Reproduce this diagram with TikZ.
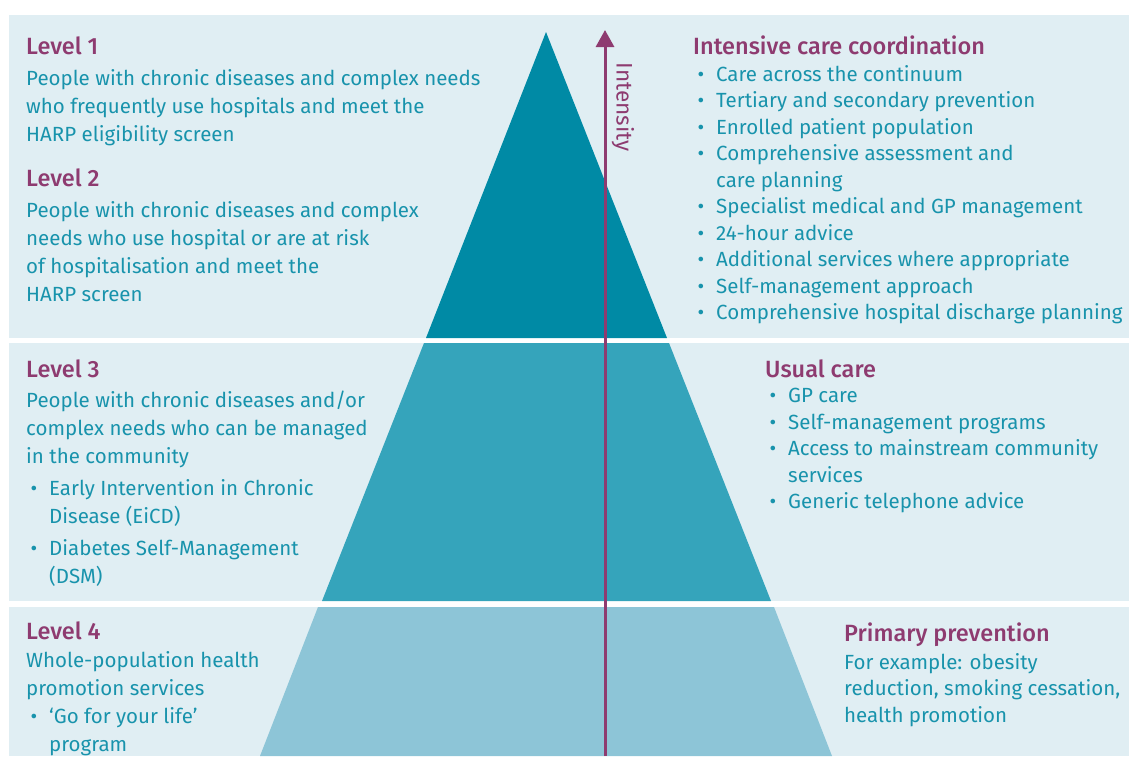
\documentclass[tikz,border=0pt]{standalone}
\usepackage{fontspec}
\setmainfont{Fira Sans}[BoldFont={Fira Sans Medium}]
\usetikzlibrary{arrows.meta}

\definecolor{bandbg}{HTML}{E0EEF3}
\definecolor{tiertop}{HTML}{008AA5}
\definecolor{tiermid}{HTML}{35A4BB}
\definecolor{tierlow}{HTML}{8DC5D7}
\definecolor{plum}{HTML}{8E3B70}
\definecolor{tealtext}{HTML}{1893AC}

\newcommand{\bul}{\llap{\textbullet\hspace{12pt}}}

\begin{document}
\begin{tikzpicture}[x=1pt, y=-1pt,
    heading/.style={anchor=base west, inner sep=0pt, text=plum, font=\fontsize{23.5}{28}\selectfont\bfseries},
    body/.style={anchor=north west, yshift=16pt, inner sep=0pt, text=tealtext, align=left,
      font=\fontsize{20.5}{28}\selectfont, execute at begin node=\strut},
    listbody/.style={body, yshift=-1.05pt, font=\fontsize{20.5}{26.5}\selectfont}
  ]
  \useasboundingbox (0,0) rectangle (1129,756);

  % bands
  \fill[bandbg] (9,15) rectangle (1129,338);
  \fill[bandbg] (9,343) rectangle (1129,601);
  \fill[bandbg] (9,607) rectangle (1129,756);

  % pyramid
  \fill[tiertop] (546,32) -- (667,338) -- (426,338) -- cycle;
  \fill[tiermid] (424,343) -- (669,343) -- (771,601) -- (322,601) -- cycle;
  \fill[tierlow] (318,607) -- (774,607) -- (832,756) -- (260,756) -- cycle;

  % intensity arrow
  \coordinate (arrowfoot) at (605,756);
  \coordinate (arrowtip) at (605,30);
  \draw[plum, line width=3pt, -{Triangle[width=18pt,length=17pt]}] (arrowfoot) -- (arrowtip);
  \node[rotate=-90, inner sep=0pt, text=plum, font=\fontsize{22.5}{26}\selectfont] (intensity) at (623,107) {Intensity};

  % left column
  \node[heading] (lvlone) at (26,54) {Level 1};
  \node[body] (lvlonetxt) at (26,85) {People with chronic diseases and complex needs\\who frequently use hospitals and meet the\\HARP eligibility screen};

  \node[heading] (lvltwo) at (26,186) {Level 2};
  \node[body] (lvltwotxt) at (26,217) {People with chronic diseases and complex\\needs who use hospital or are at risk\\of hospitalisation and meet the\\HARP screen};

  \node[heading] (lvlthree) at (26,377) {Level 3};
  \node[body] (lvlthreetxt) at (26,407) {People with chronic diseases and/or\\complex needs who can be managed\\in the community};
  \node[body] (lvlthreelist) at (49,495) {\bul Early Intervention in Chronic\\Disease (EiCD)\\[4pt]\bul Diabetes Self-Management\\(DSM)};

  \node[heading] (lvlfour) at (26,639) {Level 4};
  \node[body] (lvlfourtxt) at (26,667) {Whole-population health\\promotion services};
  \node[body] (lvlfourlist) at (49,723) {\bul `Go for your life'\\program};

  % right column
  \node[heading] (intensive) at (693,54) {Intensive care coordination};
  \node[listbody] (intensivelist) at (716,80) {\bul Care across the continuum\\\bul Tertiary and secondary prevention\\\bul Enrolled patient population\\\bul Comprehensive assessment and\\care planning\\\bul Specialist medical and GP management\\\bul 24-hour advice\\\bul Additional services where appropriate\\\bul Self-management approach\\\bul Comprehensive hospital discharge planning};

  \node[heading] (usual) at (765,377) {Usual care};
  \node[listbody] (usuallist) at (788,403) {\bul GP care\\\bul Self-management programs\\\bul Access to mainstream community\\services\\\bul Generic telephone advice};

  \node[heading] (primary) at (844,641) {Primary prevention};
  \node[listbody] (primarytxt) at (844,668) {For example: obesity\\reduction, smoking cessation,\\health promotion};
\end{tikzpicture}
\end{document}
